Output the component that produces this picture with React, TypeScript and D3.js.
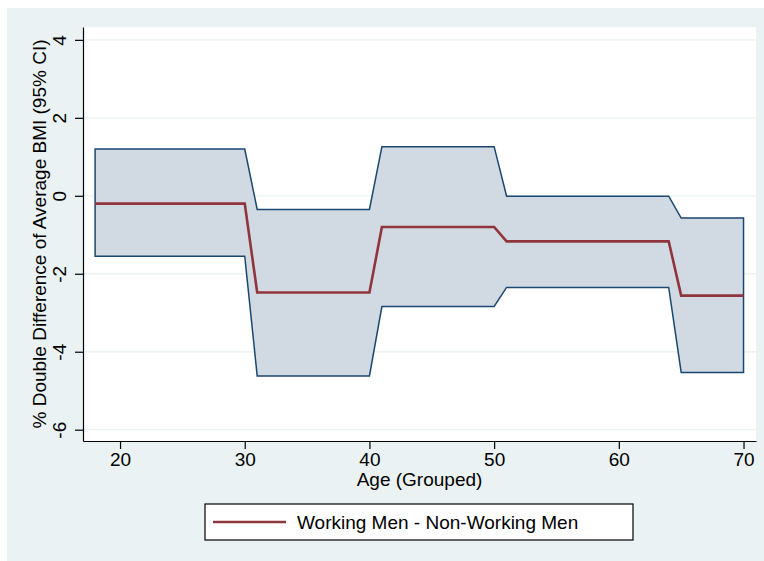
import { useEffect, useRef } from "react";
import * as d3 from "d3";

// age groups (start / end age of each flat step)
const ageStart = [18, 31, 41, 51, 65];
const ageEnd = [30, 40, 50, 64, 70];
// % double difference of average BMI, working men - non-working men
const estimate = [-0.2, -2.48, -0.8, -1.17, -2.56];
const upperCI = [1.2, -0.35, 1.26, -0.01, -0.57];
const lowerCI = [-1.55, -4.62, -2.84, -2.35, -4.53];

const xTicks = [20, 30, 40, 50, 60, 70];
const yTicks = [-6, -4, -2, 0, 2, 4];
const legendLabel = "Working Men - Non-Working Men";

const App = () => {
  const svgRef = useRef(null);

  useEffect(() => {
    const svg = d3.select(svgRef.current);
    svg.selectAll("*").remove();

    const W = 764;
    const H = 561;
    const plot = { left: 83, right: 756, top: 27, bottom: 441 };
    const font = "'Liberation Sans', Arial, Helvetica, sans-serif";

    const points = [];
    ageStart.forEach((s, i) => {
      points.push({ age: s, est: estimate[i], lo: lowerCI[i], hi: upperCI[i] });
      points.push({ age: ageEnd[i], est: estimate[i], lo: lowerCI[i], hi: upperCI[i] });
    });

    const xScale = d3.scaleLinear().domain([17.03, 71.0]).range([plot.left, plot.right]);
    const yScale = d3.scaleLinear().domain([-6.29, 4.33]).range([plot.bottom, plot.top]);

    // graph background
    svg
      .append("rect")
      .attr("x", 7)
      .attr("y", 8)
      .attr("width", W - 7)
      .attr("height", H - 8)
      .attr("fill", "#EAF2F3");

    svg
      .append("rect")
      .attr("x", plot.left)
      .attr("y", plot.top)
      .attr("width", plot.right - plot.left)
      .attr("height", plot.bottom - plot.top)
      .attr("fill", "#ffffff");

    // gridlines
    svg
      .append("g")
      .selectAll("line")
      .data(yTicks)
      .join("line")
      .attr("x1", plot.left)
      .attr("x2", plot.right)
      .attr("y1", (d) => yScale(d))
      .attr("y2", (d) => yScale(d))
      .attr("stroke", "#EAF2F3")
      .attr("stroke-width", 1.3);

    // CI band
    const area = d3
      .area()
      .x((d) => xScale(d.age))
      .y0((d) => yScale(d.lo))
      .y1((d) => yScale(d.hi));

    svg
      .append("path")
      .datum(points)
      .attr("d", area)
      .attr("fill", "#D1DAE3")
      .attr("stroke", "#1A476F")
      .attr("stroke-width", 1.5)
      .attr("stroke-linejoin", "miter");

    // point estimate
    const line = d3
      .line()
      .x((d) => xScale(d.age))
      .y((d) => yScale(d.est));

    svg
      .append("path")
      .datum(points)
      .attr("d", line)
      .attr("fill", "none")
      .attr("stroke", "#90353B")
      .attr("stroke-width", 2.6);

    // axes (plain hyphen for negatives, like the original)
    const fmt = (d) => String(d);

    const xAxis = d3
      .axisBottom(xScale)
      .tickValues(xTicks)
      .tickFormat(fmt)
      .tickSize(8)
      .tickSizeOuter(0)
      .tickPadding(4);
    const gx = svg
      .append("g")
      .attr("transform", `translate(0, ${plot.bottom})`)
      .call(xAxis);
    gx.select(".domain").attr("stroke", "#000").attr("stroke-width", 1.2);
    gx.selectAll(".tick line").attr("stroke", "#000").attr("stroke-width", 1.2);
    gx.selectAll(".tick text")
      .attr("font-family", font)
      .attr("font-size", 19)
      .attr("fill", "#000");

    const yAxis = d3
      .axisLeft(yScale)
      .tickValues(yTicks)
      .tickFormat(fmt)
      .tickSize(8)
      .tickSizeOuter(0);
    const gy = svg
      .append("g")
      .attr("transform", `translate(${plot.left}, 0)`)
      .call(yAxis);
    gy.select(".domain").attr("stroke", "#000").attr("stroke-width", 1.2);
    gy.selectAll(".tick line").attr("stroke", "#000").attr("stroke-width", 1.2);
    gy.selectAll(".tick text")
      .attr("x", null)
      .attr("dy", null)
      .attr("transform", "translate(-17, 0) rotate(-90)")
      .attr("text-anchor", "middle")
      .attr("font-family", font)
      .attr("font-size", 19)
      .attr("fill", "#000");

    // axis titles
    svg
      .append("text")
      .attr("x", (plot.left + plot.right) / 2)
      .attr("y", 486)
      .attr("text-anchor", "middle")
      .attr("font-family", font)
      .attr("font-size", 19)
      .text("Age (Grouped)");

    svg
      .append("text")
      .attr("transform", `translate(46, ${(plot.top + plot.bottom) / 2}) rotate(-90)`)
      .attr("text-anchor", "middle")
      .attr("font-family", font)
      .attr("font-size", 19)
      .text("% Double Difference of Average BMI (95% CI)");

    // legend
    const lg = svg.append("g");
    lg.append("rect")
      .attr("x", 205)
      .attr("y", 504)
      .attr("width", 428)
      .attr("height", 36)
      .attr("fill", "#ffffff")
      .attr("stroke", "#000")
      .attr("stroke-width", 1.2);
    lg.append("line")
      .attr("x1", 213)
      .attr("x2", 286)
      .attr("y1", 522)
      .attr("y2", 522)
      .attr("stroke", "#90353B")
      .attr("stroke-width", 2.6);
    lg.append("text")
      .attr("x", 297)
      .attr("y", 528.5)
      .attr("font-family", font)
      .attr("font-size", 19)
      .text(legendLabel);
  }, []);

  return (
    <svg
      ref={svgRef}
      width={764}
      height={561}
      style={{ position: "absolute", left: 0, top: 0 }}
    ></svg>
  );
};

export default App;
